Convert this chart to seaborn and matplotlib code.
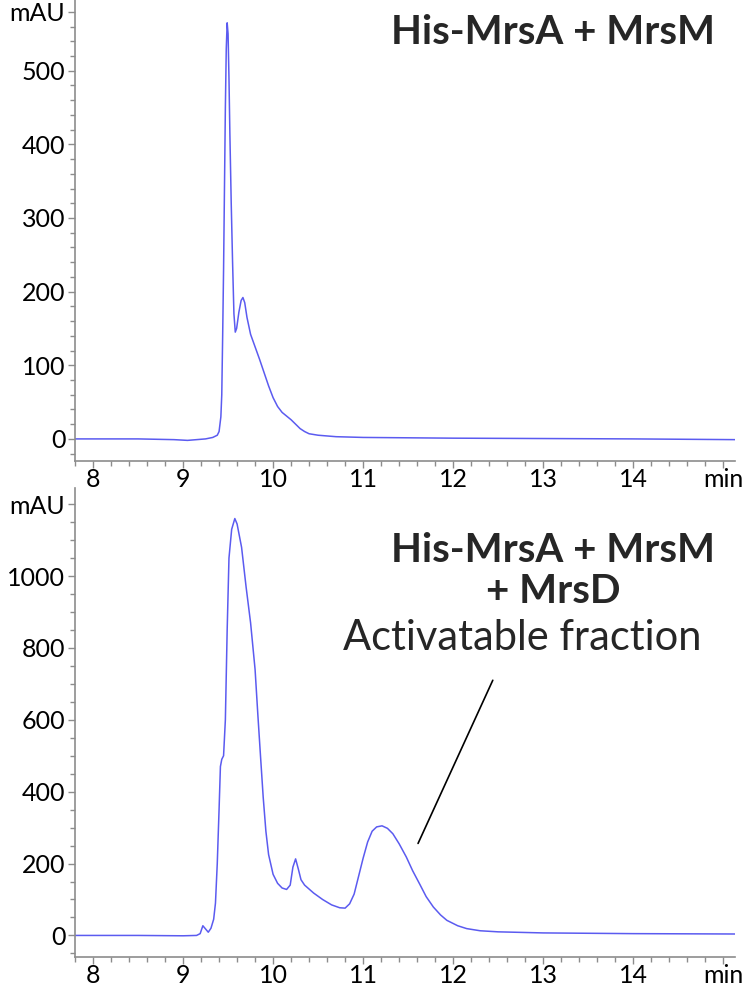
import numpy as np
import matplotlib
matplotlib.use("Agg")
import matplotlib.pyplot as plt
from matplotlib.ticker import MultipleLocator, FixedLocator
import seaborn as sns

# Trace 1: His-MrsA + MrsM (time in min, absorbance in mAU)
tiempo_1 = [7.80, 8.50, 8.90, 9.05, 9.15, 9.25, 9.33, 9.38, 9.40, 9.42, 9.43, 9.44,
            9.45, 9.46, 9.47, 9.48, 9.49, 9.50, 9.51, 9.52, 9.535, 9.55, 9.565, 9.58,
            9.595, 9.62, 9.645, 9.665, 9.685, 9.71, 9.75, 9.80, 9.85, 9.90, 9.95, 10.00,
            10.05, 10.10, 10.15, 10.20, 10.25, 10.30, 10.35, 10.40, 10.50, 10.70, 11.0,
            12.0, 13.0, 14.0, 15.13]
mau_1 = [0, 0, -1, -2, -1, 0, 2, 5, 10, 30, 60, 140,
         230, 340, 450, 530, 565, 550, 490, 415, 320, 240, 170, 145,
         150, 172, 188, 192, 185, 165, 142, 125, 108, 90, 72, 56,
         44, 36, 31, 26, 20, 14, 10, 7, 5, 3, 2,
         1, 0.5, 0, -1]

# Trace 2: His-MrsA + MrsM + MrsD
tiempo_2 = [7.80, 8.50, 9.00, 9.15, 9.19, 9.22, 9.25, 9.28, 9.31, 9.34, 9.36, 9.38,
            9.40, 9.415, 9.43, 9.45, 9.47, 9.49, 9.51, 9.54, 9.575, 9.60, 9.65, 9.70,
            9.75, 9.80, 9.83, 9.86, 9.89, 9.92, 9.95, 10.00, 10.05, 10.10, 10.15, 10.19,
            10.22, 10.25, 10.28, 10.31, 10.35, 10.45, 10.55, 10.65, 10.74, 10.80, 10.85,
            10.90, 10.95, 11.00, 11.05, 11.10, 11.15, 11.21, 11.27, 11.33, 11.40, 11.48,
            11.55, 11.63, 11.70, 11.78, 11.86, 11.93, 12.05, 12.15, 12.30, 12.50, 13.0,
            14.0, 15.13]
mau_2 = [0, 0, -1, 0, 5, 27, 18, 9, 20, 45, 90, 200,
         350, 470, 490, 500, 600, 850, 1050, 1130, 1160, 1145, 1080, 970,
         870, 740, 617, 500, 385, 290, 225, 170, 145, 132, 128, 140,
         190, 213, 185, 155, 140, 118, 100, 85, 77, 76, 88,
         115, 165, 215, 260, 290, 302, 305, 298, 283, 255, 218,
         180, 142, 108, 79, 57, 42, 27, 19, 13, 10, 7,
         5, 4]

x_ticks = [8, 9, 10, 11, 12, 13, 14, 15]
x_labels = ['8', '9', '10', '11', '12', '13', '14', 'min']
y_ticks_1 = [0, 100, 200, 300, 400, 500, 580]
y_labels_1 = ['0', '100', '200', '300', '400', '500', 'mAU']
y_ticks_2 = [0, 200, 400, 600, 800, 1000, 1200]
y_labels_2 = ['0', '200', '400', '600', '800', '1000', 'mAU']

sns.set_style('ticks')
plt.rcParams['font.family'] = ['Lato', 'DejaVu Sans']

azul = '#5b5bf0'
gris = '#8c8c8c'

fig = plt.figure(figsize=(7.5, 9.88), dpi=100)
ax1 = fig.add_axes([0.1, 1 - 461 / 988, 0.88, 461 / 988])
ax2 = fig.add_axes([0.1, 1 - 957 / 988, 0.88, (957 - 488) / 988])


def estilo(ax, yticks, ylabels, ymin, ymax, yminor):
    ax.set_facecolor('none')
    ax.set_xlim(7.8, 15.13)
    ax.set_ylim(ymin, ymax)
    ax.xaxis.set_major_locator(FixedLocator(x_ticks))
    ax.set_xticklabels(x_labels)
    ax.xaxis.set_minor_locator(MultipleLocator(0.2))
    ax.yaxis.set_major_locator(FixedLocator(yticks))
    ax.set_yticklabels(ylabels)
    ax.yaxis.set_minor_locator(MultipleLocator(yminor))
    for s in ['top', 'right']:
        ax.spines[s].set_visible(False)
    for s in ['left', 'bottom']:
        ax.spines[s].set_color(gris)
        ax.spines[s].set_linewidth(1.2)
    ax.tick_params(which='major', length=5, width=1, color=gris, labelsize=18,
                   labelcolor='black')
    ax.tick_params(axis='x', which='major', pad=0)
    ax.tick_params(axis='y', which='major', pad=2)
    ax.tick_params(which='minor', length=3.5, width=1, color=gris)
    ax.set_xlabel('')
    ax.set_ylabel('')


sns.lineplot(x=tiempo_1, y=mau_1, ax=ax1, color=azul, linewidth=1.1)
estilo(ax1, y_ticks_1, y_labels_1, -30, 596, 20)
ax1.text(0.724, 0.93, 'His-MrsA + MrsM', transform=ax1.transAxes, ha='center',
         va='center', fontsize=29, fontweight='bold')

sns.lineplot(x=tiempo_2, y=mau_2, ax=ax2, color=azul, linewidth=1.1)
estilo(ax2, y_ticks_2, y_labels_2, -60, 1245, 50)
ax2.text(0.724, 0.823, 'His-MrsA + MrsM\n+ MrsD', transform=ax2.transAxes,
         ha='center', va='center', fontsize=29, fontweight='bold', linespacing=1.15)

ax2.plot([11.61, 12.44], [256, 710], color='black', linewidth=1.2)
ax2.text(12.77, 827, 'Activatable fraction', ha='center', va='center',
         fontsize=30)

fig.savefig('out.png', dpi=100)
